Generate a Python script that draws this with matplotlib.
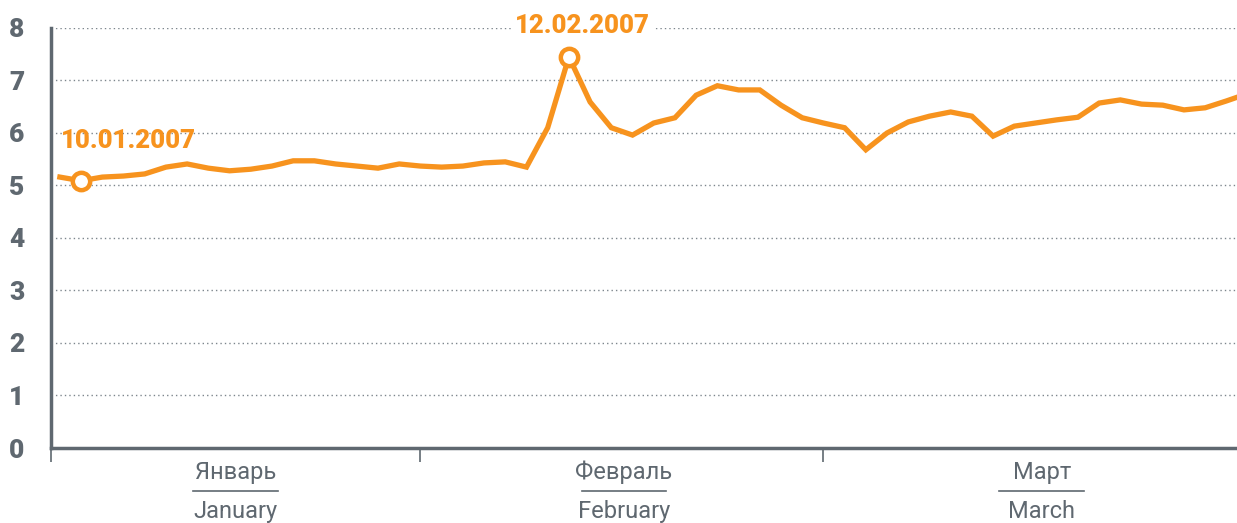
import matplotlib
matplotlib.use("Agg")
import matplotlib.pyplot as plt
import matplotlib.transforms as mtransforms

# Daily values (trading days from 09.01.2007)
values = [5.16, 5.09, 5.16, 5.18, 5.22, 5.35, 5.41, 5.33, 5.28, 5.31,
          5.37, 5.47, 5.47, 5.41, 5.37, 5.33, 5.41, 5.37, 5.35, 5.37,
          5.43, 5.45, 5.35, 6.10, 7.45, 6.59, 6.10, 5.96, 6.19, 6.29,
          6.72, 6.90, 6.82, 6.82, 6.53, 6.29, 6.19, 6.10, 5.68, 6.00,
          6.21, 6.32, 6.40, 6.32, 5.94, 6.13, 6.19, 6.25, 6.30, 6.57,
          6.63, 6.55, 6.53, 6.44, 6.48, 6.61, 6.75]
highlight_idx = [1, 24]
highlight_labels = ["10.01.2007", "12.02.2007"]
month_start_idx = [17, 36]          # first trading day of Feb and Mar
months_ru = ["Январь", "Февраль", "Март"]
months_en = ["January", "February", "March"]
month_centers = [8.3, 26.6, 46.3]
yticks = [0, 1, 2, 3, 4, 5, 6, 7, 8]

ORANGE = "#F7931E"
GRAY = "#5F6870"
GRID = "#7D868D"

fig = plt.figure(figsize=(12.37, 5.23), dpi=100)
ax = fig.add_axes([0.0412, 0.1434, 0.9588, 0.8031])

x = list(range(len(values)))
xmin, xmax = -0.42, 55.5
ax.set_xlim(xmin, xmax)
ax.set_ylim(0, 8)

for y in yticks[1:]:
    ax.axhline(y, color=GRID, linestyle=(0, (1, 2.2)), linewidth=1.0, zorder=1)

ax.plot(x, values, color=ORANGE, linewidth=3.8, solid_joinstyle="miter", zorder=3)
ax.plot([x[i] for i in highlight_idx], [values[i] for i in highlight_idx],
        linestyle="none", marker="o", markersize=12.5, markerfacecolor="white",
        markeredgecolor=ORANGE, markeredgewidth=3.2, zorder=4)

# date labels
bold_font = ["Roboto", "DejaVu Sans"]
ax.text(x[1] - 0.95, values[1] + 0.52, highlight_labels[0], color=ORANGE,
        fontsize=18.5, fontweight="heavy", family=bold_font,
        ha="left", va="bottom", zorder=5)
ax.text(x[24] + 0.65, values[24] + 0.36, highlight_labels[1], color=ORANGE,
        fontsize=18.5, fontweight="heavy", family=bold_font,
        ha="center", va="bottom", zorder=5,
        bbox=dict(facecolor="white", edgecolor="none", pad=2))

for side in ["top", "right"]:
    ax.spines[side].set_visible(False)
for side in ["left", "bottom"]:
    ax.spines[side].set_color(GRAY)
    ax.spines[side].set_linewidth(2.5)

ax.set_yticks(yticks)
ax.set_yticklabels([str(v) for v in yticks], fontsize=19, fontweight="heavy",
                   color=GRAY, family=bold_font)
ax.tick_params(axis="y", length=0, pad=19)

ax.set_xticks([xmin] + month_start_idx)
ax.set_xticklabels([])
ax.tick_params(axis="x", length=10, width=1.2, color=GRAY)

trans = mtransforms.blended_transform_factory(ax.transData, ax.transAxes)
narrow = ["Liberation Sans Narrow", "Roboto", "DejaVu Sans"]
for cx, ru, en in zip(month_centers, months_ru, months_en):
    ax.text(cx, -0.058, ru, transform=trans, ha="center", va="center",
            fontsize=17, color=GRAY, family=narrow, clip_on=False)
    ax.text(cx, -0.150, en, transform=trans, ha="center", va="center",
            fontsize=17, color=GRAY, family=narrow, clip_on=False)
    ax.plot([cx - 2.0, cx + 2.0], [-0.102, -0.102], transform=trans,
            color=GRAY, linewidth=1.2, clip_on=False)

fig.savefig("out.png", dpi=100)
